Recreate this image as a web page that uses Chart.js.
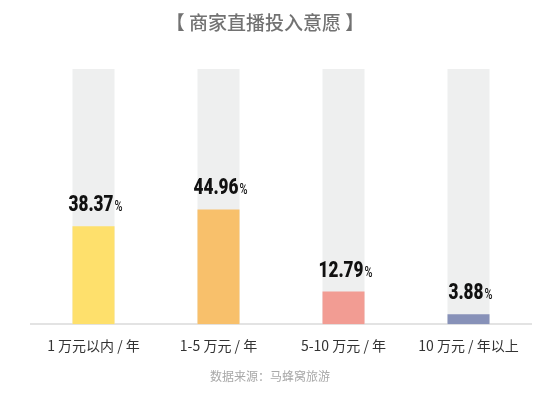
<!DOCTYPE html>
<html>
<head>
<meta charset="utf-8">
<script src="https://cdn.jsdelivr.net/npm/chart.js@4"></script>
<style>
  html, body { margin: 0; padding: 0; background: #fff; }
  #wrap { position: relative; width: 546px; height: 398px; }
  .note { position: absolute; left: 0; font-family: "Noto Sans CJK SC", sans-serif; }
  #title { top: 8px; width: 530px; text-align: center; font-size: 19px; font-weight: 500; color: #727272; }
  #source { top: 367px; width: 540px; text-align: center; font-size: 12px; color: #A8A8A8; }
</style>
</head>
<body>
<div id="wrap">
  <canvas id="chart"></canvas>
  <div class="note" id="title">【 商家直播投入意愿 】</div>
  <div class="note" id="source">数据来源：马蜂窝旅游</div>
</div>
<script>
const categories = ['1 万元以内 / 年', '1-5 万元 / 年', '5-10 万元 / 年', '10 万元 / 年以上'];
const shares = [38.37, 44.96, 12.79, 3.88];
const track = [100, 100, 100, 100];
const barColors = ['#FEE06C', '#F8C06B', '#F29C93', '#8791B8'];

const cjk = '"Noto Sans CJK SC", "Noto Sans", sans-serif';
const numFont = 'Roboto, "Liberation Sans", sans-serif';

// numbers over the bars, squeezed sideways to look condensed, with a small % sign
const valueLabels = {
  id: 'valueLabels',
  afterDatasetsDraw(chart) {
    const ctx = chart.ctx;
    const meta = chart.getDatasetMeta(0);
    const sx = 0.78;
    ctx.save();
    ctx.fillStyle = '#111';
    ctx.textBaseline = 'alphabetic';
    ctx.textAlign = 'left';
    meta.data.forEach((bar, i) => {
      const num = shares[i].toFixed(2);
      ctx.font = '900 22px ' + numFont;
      const w1 = ctx.measureText(num).width * sx;
      ctx.font = '500 14px ' + numFont;
      const w2 = ctx.measureText('%').width * sx;
      const x0 = bar.x + 2 - (w1 + w2 + 1) / 2;
      const y = bar.y - 15;
      ctx.save();
      ctx.translate(x0, y);
      ctx.scale(sx, 1);
      ctx.font = '900 22px ' + numFont;
      ctx.fillText(num, 0, 0);
      ctx.font = '500 14px ' + numFont;
      ctx.fillText('%', (w1 + 1) / sx, 0);
      ctx.restore();
    });
    ctx.restore();
  }
};

new Chart(document.getElementById('chart'), {
  type: 'bar',
  data: {
    labels: categories,
    datasets: [
      {
        data: shares,
        backgroundColor: barColors,
        barPercentage: 0.336,
        categoryPercentage: 1,
        grouped: false,
        order: 1
      },
      {
        data: track,
        backgroundColor: '#EEEFEF',
        barPercentage: 0.336,
        categoryPercentage: 1,
        grouped: false,
        order: 2
      }
    ]
  },
  options: {
    responsive: true,
    maintainAspectRatio: false,
    animation: false,
    layout: { padding: { left: 31, right: 15, top: 69, bottom: 39 } },
    plugins: {
      legend: { display: false },
      tooltip: { enabled: false }
    },
    scales: {
      x: {
        grid: { display: false },
        border: { color: '#E3E3E3', width: 2 },
        ticks: {
          color: '#333',
          font: { family: cjk, size: 14 },
          padding: 5
        }
      },
      y: {
        display: false,
        min: 0,
        max: 100
      }
    }
  },
  plugins: [valueLabels]
});
</script>
</body>
</html>
